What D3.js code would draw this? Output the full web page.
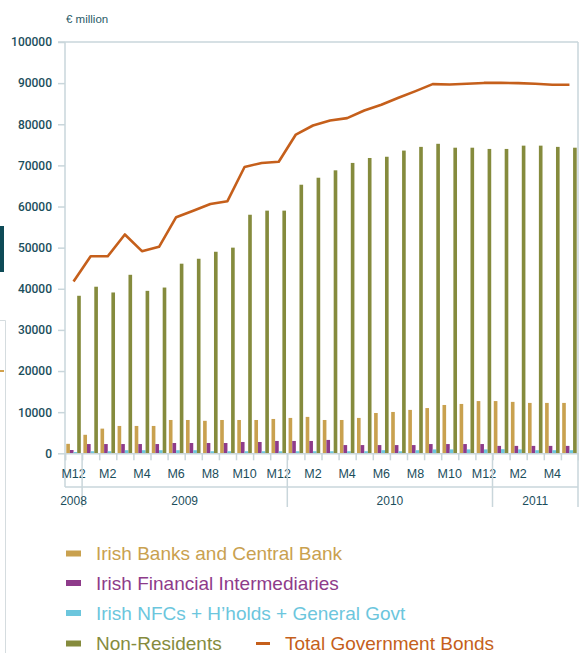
<!DOCTYPE html>
<html>
<head>
<meta charset="utf-8">
<script src="https://cdn.jsdelivr.net/npm/d3@7"></script>
<style>
  body { margin: 0; background: #fff; }
  svg { display: block; font-family: "Liberation Sans", Arial, sans-serif; }
</style>
</head>
<body>
<div id="graph"></div>
<script>
// months Dec 2008 .. May 2011
const months = ["M12", "M1", "M2", "M3", "M4", "M5", "M6", "M7", "M8", "M9", "M10", "M11", "M12",
    "M1", "M2", "M3", "M4", "M5", "M6", "M7", "M8", "M9", "M10", "M11", "M12",
    "M1", "M2", "M3", "M4", "M5"];
const years = [
    { year: "2008", from: 0, to: 1 },
    { year: "2009", from: 1, to: 13 },
    { year: "2010", from: 13, to: 25 },
    { year: "2011", from: 25, to: 30 },
];
const yTicks = [0, 10000, 20000, 30000, 40000, 50000, 60000, 70000, 80000, 90000, 100000];

const irishBanks = [2300, 4500, 6000, 6650, 6650, 6650, 8100, 8100, 7900, 8100, 8100, 8100, 8350, 8600, 8850,
    8100, 8100, 8600, 9800, 10050, 10550, 11000, 11750, 12000, 12700, 12700, 12500, 12250, 12250, 12250];
const irishFinInt = [800, 2250, 2250, 2250, 2250, 2250, 2500, 2500, 2500, 2500, 2750, 2750, 3000, 3000, 3000,
    3250, 2000, 2000, 2000, 2000, 2000, 2250, 2250, 2250, 2250, 1800, 1800, 1800, 1800, 1800];
const irishNfc = [300, 500, 500, 750, 750, 750, 750, 750, 500, 500, 500, 500, 500, 500, 500,
    500, 500, 500, 750, 500, 750, 950, 950, 950, 950, 1000, 950, 750, 750, 750];
const nonResidents = [38300, 40500, 39100, 43400, 39500, 40300, 46100, 47300, 49000, 50000, 58000, 59000, 59000,
    65300, 67000, 68800, 70600, 71800, 72100, 73600, 74500, 75250, 74300, 74300, 74000, 74000, 74800, 74800, 74500, 74300];
const totalBonds = [41750, 47900, 47900, 53200, 49150, 50200, 57400, 58950, 60600, 61300, 69600, 70600, 70900,
    77500, 79700, 80900, 81500, 83350, 84750, 86450, 88050, 89750, 89650, 89850, 90050, 90050, 90000, 89850, 89600, 89600];

const seriesNames = ["Irish Banks and Central Bank", "Irish Financial Intermediaries",
    "Irish NFCs + H\u2019holds + General Govt", "Non-Residents"];
const seriesData = [irishBanks, irishFinInt, irishNfc, nonResidents];
const colors = ["#c9a14f", "#8e3b8a", "#6cc6dd", "#858b3d"];
const lineColor = "#c55f1b";
const axisText = "#1b4e5c";
const axisLine = "#c9d6db";

const W = 579, H = 653;
const mLeft = 65, mRight = 578, mTop = 42, mBottom = 453.3;

const svg = d3.select("#graph").append("svg").attr("width", W).attr("height", H);

// page bits that show at the left edge of the crop
svg.append("rect").attr("x", 0).attr("y", 226).attr("width", 4).attr("height", 46).attr("fill", "#0e4b57");
svg.append("path").attr("d", "M0,320.5H5.5V653").attr("fill", "none").attr("stroke", "#d5dcdf").attr("stroke-width", 1);
svg.append("path").attr("d", "M0,371H4").attr("stroke", "#d2a24c").attr("stroke-width", 2);

const idx = d3.range(months.length);
const x = d3.scaleBand().domain(idx).range([mLeft, mRight]).paddingInner(0.15).paddingOuter(0.075);
const xb = d3.scaleLinear().domain([0, months.length]).range([mLeft, mRight]);
const xs = d3.scaleBand().domain(d3.range(4)).range([0, x.bandwidth()]);
const y = d3.scaleLinear().domain([0, 100000]).range([mBottom, mTop]);

// frame
svg.append("line").attr("x1", mLeft - 7).attr("x2", mRight).attr("y1", y(100000)).attr("y2", y(100000))
    .attr("stroke", axisLine).attr("stroke-width", 1.5);
svg.append("line").attr("x1", mLeft).attr("x2", mLeft).attr("y1", mTop).attr("y2", 487)
    .attr("stroke", axisLine).attr("stroke-width", 1.5);
svg.append("line").attr("x1", mRight).attr("x2", mRight).attr("y1", mTop).attr("y2", 507)
    .attr("stroke", axisLine).attr("stroke-width", 1.5);

// y axis
const gy = svg.append("g").attr("transform", `translate(${mLeft},0)`)
    .call(d3.axisLeft(y).tickValues(yTicks).tickSize(7).tickPadding(6).tickFormat(d3.format("d")));
gy.select(".domain").remove();
gy.selectAll(".tick line").attr("stroke", axisLine).attr("stroke-width", 1.5);
gy.selectAll(".tick text").attr("fill", axisText).attr("font-size", 12).attr("font-weight", 500)
    .attr("font-family", "Roboto, 'Liberation Sans', sans-serif");

svg.append("text").attr("x", 66).attr("y", 23).attr("fill", "#2a5b68").attr("font-size", 11.5)
    .text("\u20ac million");

// bars
seriesData.forEach((vals, s) => {
    svg.append("g").selectAll("rect").data(vals).join("rect")
        .attr("x", (d, i) => x(i) + xs(s))
        .attr("width", xs.bandwidth())
        .attr("y", d => y(d))
        .attr("height", d => y(0) - y(d))
        .attr("fill", colors[s]);
});

// total line
const line = d3.line().x((d, i) => x(i) + x.bandwidth() / 2).y(d => y(d));
svg.append("path").datum(totalBonds).attr("d", line).attr("fill", "none")
    .attr("stroke", lineColor).attr("stroke-width", 2.6).attr("stroke-linejoin", "round");

// x axis: month ticks at boundaries
const gx = svg.append("g").attr("transform", `translate(0,${mBottom})`)
    .call(d3.axisBottom(xb).tickValues(d3.range(months.length + 1)).tickSize(7).tickFormat(""));
gx.select(".domain").attr("stroke", axisLine).attr("stroke-width", 1.5);
gx.selectAll(".tick line").attr("stroke", axisLine).attr("stroke-width", 1.5);

svg.append("g").selectAll("text").data(idx.filter(i => i % 2 === 0)).join("text")
    .attr("x", i => x(i) + x.bandwidth() / 2)
    .attr("y", 477.5)
    .attr("text-anchor", "middle")
    .attr("fill", axisText).attr("font-size", 12.5)
    .text(i => months[i]);

// year band
svg.append("line").attr("x1", mLeft).attr("x2", mRight).attr("y1", 487).attr("y2", 487)
    .attr("stroke", axisLine).attr("stroke-width", 1.5);
svg.append("g").selectAll("line").data(years.slice(1)).join("line")
    .attr("x1", d => xb(d.from)).attr("x2", d => xb(d.from))
    .attr("y1", mBottom).attr("y2", 507)
    .attr("stroke", axisLine).attr("stroke-width", 1.5);
svg.append("g").selectAll("text").data(years).join("text")
    .attr("x", d => (xb(d.from) + xb(d.to)) / 2)
    .attr("y", 504.5)
    .attr("text-anchor", "middle")
    .attr("fill", axisText).attr("font-size", 12)
    .text(d => d.year);

// legend
const legendY = [553.5, 583, 613, 643.5];
seriesNames.forEach((name, s) => {
    svg.append("rect").attr("x", 66).attr("y", legendY[s] - 3).attr("width", 15).attr("height", 6)
        .attr("fill", colors[s]);
    svg.append("text").attr("x", 96).attr("y", legendY[s] + 6.5).attr("fill", colors[s])
        .attr("font-size", 19).text(name);
});
svg.append("rect").attr("x", 256).attr("y", legendY[3] - 1.5).attr("width", 14).attr("height", 3)
    .attr("fill", lineColor);
svg.append("text").attr("x", 285).attr("y", legendY[3] + 6.5).attr("fill", lineColor)
    .attr("font-size", 19).text("Total Government Bonds");
</script>
</body>
</html>
